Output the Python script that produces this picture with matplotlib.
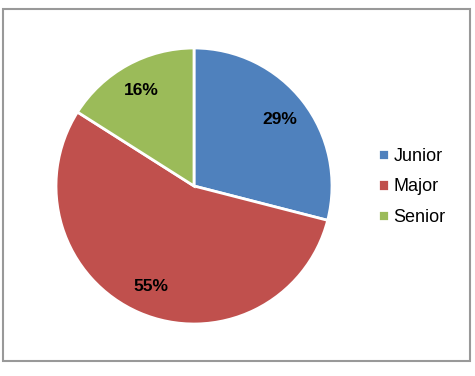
import matplotlib
matplotlib.use('Agg')
import matplotlib.pyplot as plt
from matplotlib.patches import Rectangle

plt.rcParams['font.family'] = ['Liberation Sans', 'DejaVu Sans']

# group shares in percent
groups = ['Junior', 'Major', 'Senior']
shares = [29, 55, 16]
colors = ['#4F81BD', '#C0504D', '#9BBB59']

fig = plt.figure(figsize=(4.75, 3.76), dpi=100)

# grey frame around the chart
fig.patches.append(Rectangle((3 / 475, 15 / 376), 467 / 475, 352 / 376,
                             transform=fig.transFigure, fill=False,
                             edgecolor='#999999', linewidth=1.5))

ax = fig.add_axes([56 / 475, 52 / 376, 276 / 475, 276 / 376])
wedges, texts, autotexts = ax.pie(
    shares, colors=colors, startangle=90, counterclock=False,
    autopct='%d%%', pctdistance=0.79,
    wedgeprops=dict(edgecolor='white', linewidth=2),
    textprops=dict(fontsize=12.5, fontweight='bold', color='black'))
ax.set_xlim(-1.0, 1.0)
ax.set_ylim(-1.0, 1.0)
ax.set_aspect('equal')

fig.legend(wedges, groups, loc='center left', bbox_to_anchor=(362 / 475, 189 / 376),
           frameon=False, fontsize=13, handlelength=0.6, handleheight=0.6,
           handletextpad=0.25, labelspacing=0.75)

fig.savefig('out.png', dpi=100)
